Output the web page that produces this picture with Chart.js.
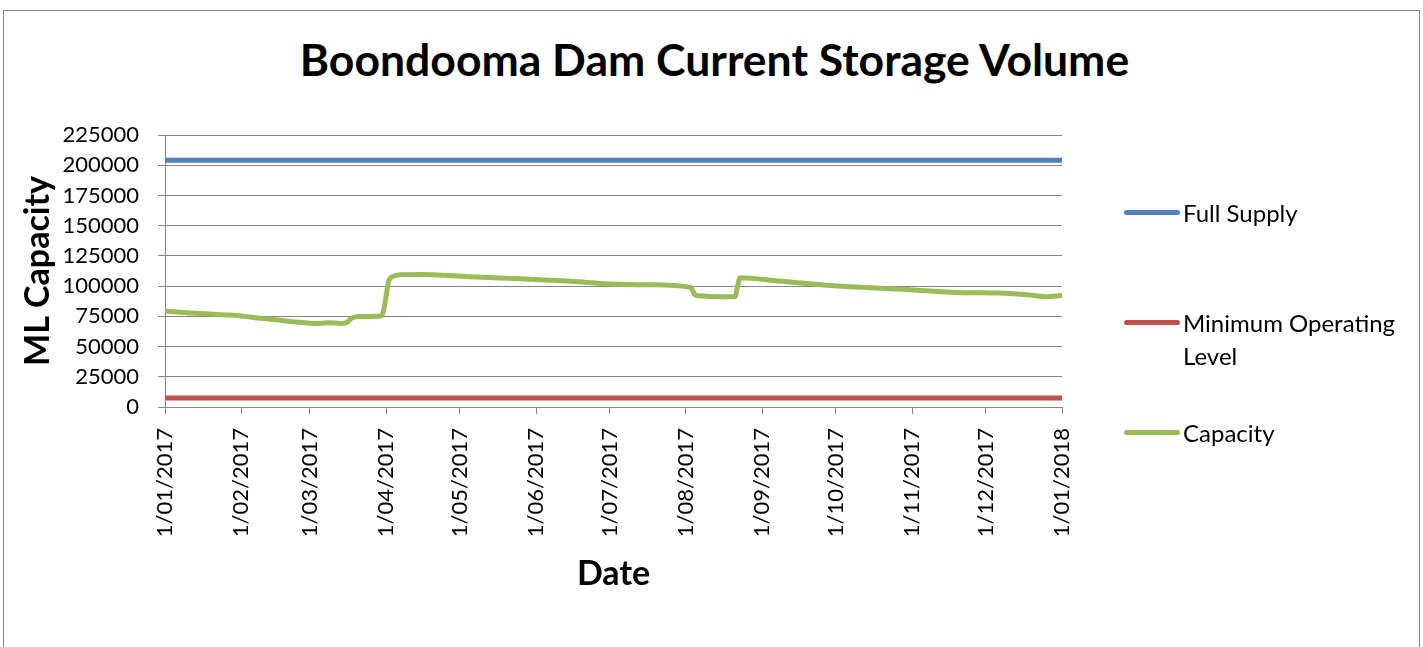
<!DOCTYPE html>
<html>
<head>
<meta charset="utf-8">
<script src="https://cdn.jsdelivr.net/npm/chart.js@4.4.0/dist/chart.umd.min.js"></script>
<style>
  html, body { margin: 0; padding: 0; background: #fff; }
  body { width: 1423px; height: 647px; position: relative; overflow: hidden; font-family: Lato, "Open Sans", sans-serif; }
  #frame { position: absolute; left: 3px; top: 10px; width: 1417px; height: 700px; border: 1px solid #868686; box-sizing: border-box; }
  #title { position: absolute; left: 0; width: 1429px; top: 37px; text-align: center; font: bold 44.5px/1 Lato, sans-serif; color: #000; }
  #chart { position: absolute; left: 0; top: 0; }
  .lg { position: absolute; left: 1124px; display: flex; align-items: flex-start; font: 24px/33px Lato, sans-serif; color: #000; }
  .lg .sw { width: 56px; height: 5px; border-radius: 3px; margin-top: 14px; margin-right: 3px; flex: none; }
  .lg .tx { width: 236px; }
</style>
</head>
<body>
<div id="frame"></div>
<div id="title">Boondooma Dam Current Storage Volume</div>
<canvas id="chart" width="1423" height="647"></canvas>
<div id="legend"></div>
<script>
// ---- data ----
const xTickLabels = ['1/01/2017','1/02/2017','1/03/2017','1/04/2017','1/05/2017','1/06/2017','1/07/2017',
                     '1/08/2017','1/09/2017','1/10/2017','1/11/2017','1/12/2017','1/01/2018'];
const levelDates = ['2017-01-01', '2018-01-01'];
const fullSupply = [204200, 204200];
const minimumOperatingLevel = [7500, 7500];
const capacityDates = ['2017-01-01','2017-01-12','2017-01-26','2017-01-30','2017-02-09','2017-02-22',
  '2017-03-04','2017-03-08','2017-03-14','2017-03-16','2017-03-18','2017-03-21','2017-03-30','2017-03-31',
  '2017-04-01','2017-04-02','2017-04-04','2017-04-07','2017-04-15','2017-05-05','2017-05-26','2017-06-15',
  '2017-07-01','2017-07-17','2017-08-03','2017-08-04','2017-08-05','2017-08-20','2017-08-21','2017-08-22',
  '2017-08-23','2017-09-08','2017-09-30','2017-10-26','2017-11-22','2017-12-06','2017-12-19','2017-12-25',
  '2018-01-01'];
const capacity = [79500, 77700, 76200, 75700, 73400, 70600,
  69000, 69700, 69100, 70000, 73600, 74900, 75300, 80000,
  92000, 104000, 108200, 109500, 109700, 107800, 106100, 104100,
  101800, 101100, 98800, 95000, 92300, 91200, 91300, 100000,
  107000, 104200, 100300, 97600, 94600, 94200, 92600, 91300,
  92300];
const seriesNames = ['Full Supply', 'Minimum Operating Level', 'Capacity'];
const seriesColors = ['#4F81BD', '#C0504D', '#9BBB59'];

// ---- helpers ----
const BASE = Date.UTC(2017, 0, 1);
function dayOfIso(iso) { const [y, m, d] = iso.split('-').map(Number); return (Date.UTC(y, m - 1, d) - BASE) / 86400000; }
function dayOfLabel(lbl) { const [d, m, y] = lbl.split('/').map(Number); return (Date.UTC(y, m - 1, d) - BASE) / 86400000; }
const tickDays = xTickLabels.map(dayOfLabel);
const toPts = (dates, vals) => dates.map((d, i) => ({ x: dayOfIso(d), y: vals[i] }));

const datasets = [
  { label: seriesNames[0], data: toPts(levelDates, fullSupply) },
  { label: seriesNames[1], data: toPts(levelDates, minimumOperatingLevel) },
  { label: seriesNames[2], data: toPts(capacityDates, capacity), cubicInterpolationMode: 'monotone' }
].map((ds, i) => Object.assign({
  borderColor: seriesColors[i], backgroundColor: seriesColors[i], borderWidth: 5,
  pointRadius: 0, borderCapStyle: 'round', borderJoinStyle: 'round', fill: false
}, ds));

const GRID = '#868686';
new Chart(document.getElementById('chart'), {
  type: 'line',
  data: { datasets },
  options: {
    responsive: false, animation: false, devicePixelRatio: 1,
    layout: { padding: { left: 3, top: 135, right: 361, bottom: 20 } },
    plugins: { legend: { display: false }, title: { display: false }, tooltip: { enabled: false } },
    scales: {
      x: {
        type: 'linear', min: tickDays[0], max: tickDays[tickDays.length - 1],
        afterBuildTicks: s => { s.ticks = tickDays.map(v => ({ value: v })); },
        afterFit: s => { s.height = 220; },
        ticks: { autoSkip: false, maxRotation: 90, minRotation: 90, padding: 14, color: '#000',
                 font: { family: 'Lato', size: 22 }, callback: (v, i) => xTickLabels[i] },
        grid: { drawOnChartArea: false, drawTicks: true, tickLength: 7, color: GRID, lineWidth: 1 },
        border: { display: true, color: GRID, width: 1 },
        title: { display: true, text: 'Date', color: '#000', font: { family: 'Lato', size: 34, weight: 'bold' },
                 padding: { top: 0, bottom: 33 } }
      },
      y: {
        min: 0, max: 225000,
        afterFit: s => { s.width = 162; },
        ticks: { stepSize: 25000, padding: 19, color: '#000', font: { family: 'Lato', size: 22 },
                 callback: v => String(v) },
        grid: { color: GRID, lineWidth: 1, tickLength: 7 },
        border: { display: true, color: GRID, width: 1 },
        title: { display: true, text: 'ML Capacity', color: '#000', font: { family: 'Lato', size: 34, weight: 'bold' },
                 padding: { top: 15, bottom: 0 } }
      }
    }
  }
});

// ---- legend (HTML, wraps like the original) ----
const legendTops = [196, 306, 416];
const lg = document.getElementById('legend');
datasets.forEach((ds, i) => {
  const item = document.createElement('div');
  item.className = 'lg';
  item.style.top = legendTops[i] + 'px';
  const sw = document.createElement('div'); sw.className = 'sw'; sw.style.background = ds.borderColor;
  const tx = document.createElement('div'); tx.className = 'tx'; tx.textContent = ds.label;
  item.appendChild(sw); item.appendChild(tx); lg.appendChild(item);
});
</script>
</body>
</html>
